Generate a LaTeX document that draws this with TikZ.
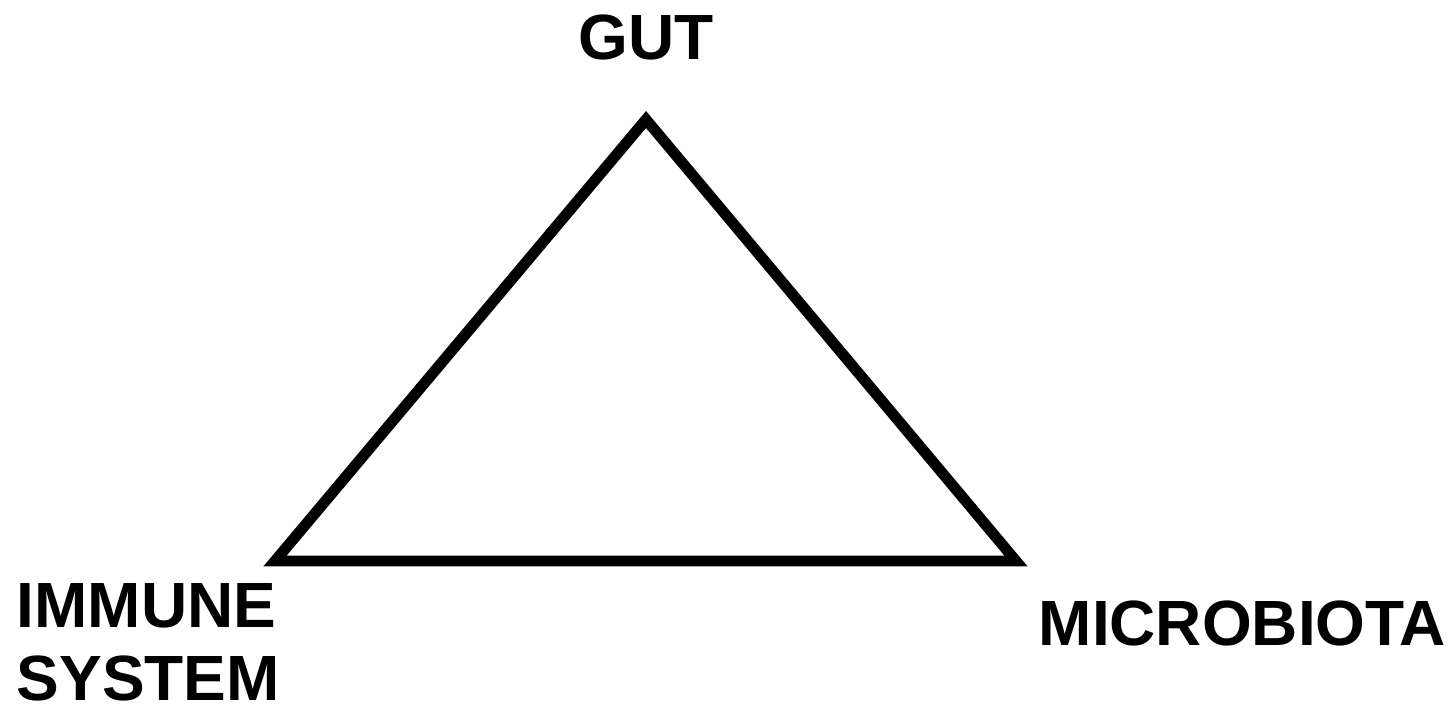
\documentclass[tikz,border=0pt]{standalone}
\usepackage{fontspec}
\setmainfont{Liberation Sans}
\usetikzlibrary{positioning}

\begin{document}
\begin{tikzpicture}[font=\fontsize{18.2}{20.5}\selectfont\bfseries, x=1cm, y=1cm]
    \useasboundingbox (0,0) rectangle (14.52,7.04);
    \coordinate (top) at (6.46,5.845);
    \coordinate (left) at (2.75,1.43);
    \coordinate (right) at (10.16,1.43);
    \draw[line width=3.1pt, miter limit=10] (top) -- (left) -- (right) -- cycle;
    \node[anchor=base, inner sep=0] (gut) at (6.46,6.44) {GUT};
    \node[anchor=base west, inner sep=0, align=left] (immune) at (0.16,0.04) {IMMUNE\\SYSTEM};
    \node[anchor=base west, inner sep=0] (microbiota) at (10.38,0.59) {MICROBIOTA};
\end{tikzpicture}
\end{document}
